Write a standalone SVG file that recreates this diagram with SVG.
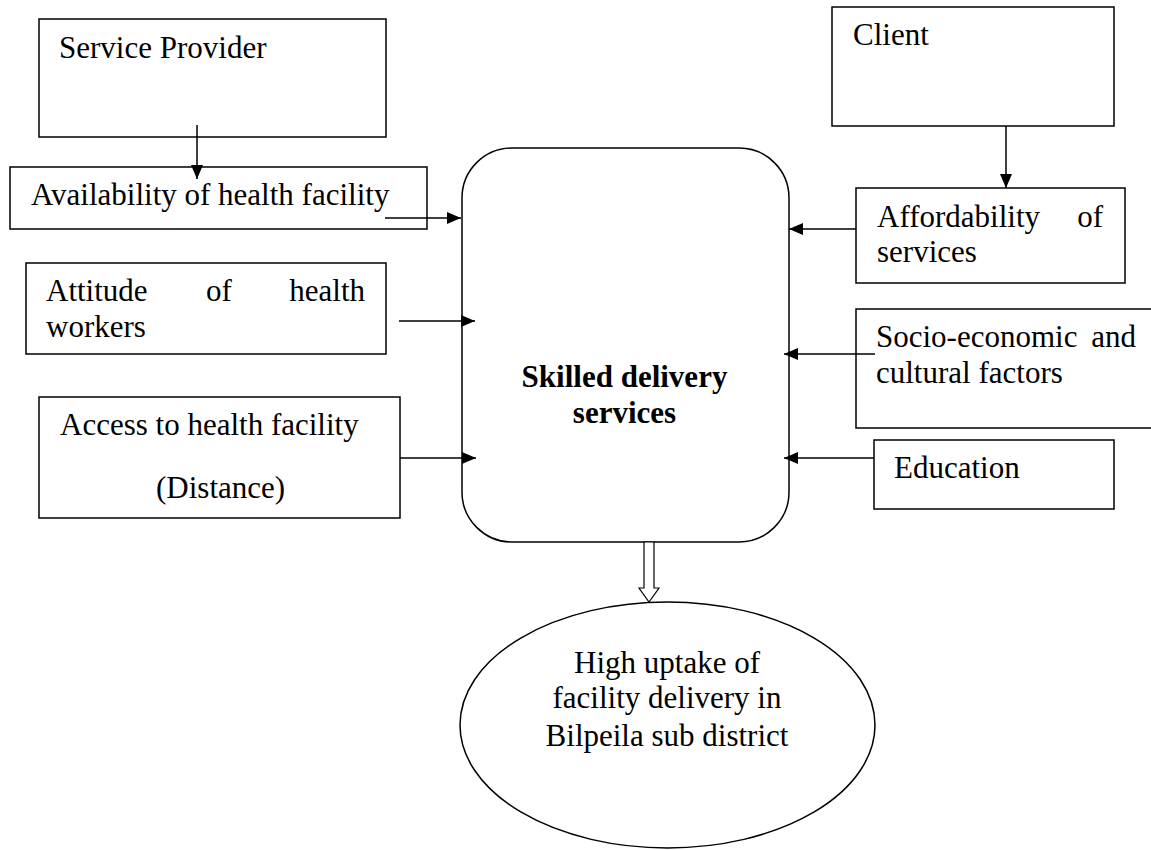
<svg xmlns="http://www.w3.org/2000/svg" width="1151" height="850" viewBox="0 0 1151 850">
<style>
.box{fill:#fff;stroke:#000;stroke-width:1.5}
.t{font-family:"Liberation Serif","Times New Roman",serif;font-size:31px;fill:#000}
.b{font-weight:bold}
.c{text-anchor:middle}
.e{text-anchor:end}
.ln{stroke:#000;stroke-width:1.5;fill:none}
</style>
<defs>
<marker id="ah" viewBox="0 0 14 12" refX="14" refY="6" markerWidth="14" markerHeight="12" markerUnits="userSpaceOnUse" orient="auto">
<path d="M0,0 L14,6 L0,12 z" fill="#000"/>
</marker>
</defs>
<rect width="1151" height="850" fill="#fff"/>
<g id="service-provider">
<rect class="box" x="39" y="19" width="347" height="118"/>
<text class="t" x="59" y="58">Service Provider</text>
</g>
<g id="availability">
<rect class="box" x="10" y="167" width="417" height="62"/>
<text class="t" x="31" y="205">Availability of health facility</text>
</g>
<g id="client">
<rect class="box" x="832" y="7" width="282" height="119"/>
<text class="t" x="853" y="45">Client</text>
</g>
<g id="affordability">
<rect class="box" x="856" y="188" width="269" height="95"/>
<text class="t" x="877" y="227">Affordability</text>
<text class="t e" x="1103" y="227">of</text>
<text class="t" x="877" y="262">services</text>
</g>
<g id="attitude">
<rect class="box" x="26" y="263" width="360" height="91"/>
<text class="t" x="46" y="301">Attitude</text>
<text class="t" x="206" y="301">of</text>
<text class="t e" x="365" y="301">health</text>
<text class="t" x="46" y="337">workers</text>
</g>
<g id="access">
<rect class="box" x="39" y="397" width="361" height="121"/>
<text class="t" x="60" y="435">Access to health facility</text>
<text class="t" x="156" y="498">(Distance)</text>
</g>
<g id="socio">
<rect class="box" x="856" y="309" width="310" height="119"/>
<text class="t" x="876" y="347">Socio-economic</text>
<text class="t e" x="1136" y="347">and</text>
<text class="t" x="876" y="383">cultural factors</text>
</g>
<g id="education">
<rect class="box" x="874" y="440" width="240" height="69"/>
<text class="t" x="894" y="478">Education</text>
</g>
<g id="skilled">
<rect class="box" x="462" y="148" width="327" height="394" rx="50" ry="50"/>
<text class="t b c" x="624.5" y="387">Skilled delivery</text>
<text class="t b c" x="624.5" y="423">services</text>
</g>
<g id="uptake">
<ellipse class="box" cx="667.5" cy="725" rx="207.5" ry="123"/>
<text class="t c" x="667" y="673">High uptake of</text>
<text class="t c" x="667" y="708">facility delivery in</text>
<text class="t c" x="667" y="746">Bilpeila sub district</text>
</g>
<g id="connectors">
<line class="ln" x1="197" y1="125" x2="197" y2="179" marker-end="url(#ah)"/>
<line class="ln" x1="1006" y1="126" x2="1006" y2="188" marker-end="url(#ah)"/>
<line class="ln" x1="385" y1="218" x2="461" y2="218" marker-end="url(#ah)"/>
<line class="ln" x1="399" y1="321" x2="475" y2="321" marker-end="url(#ah)"/>
<line class="ln" x1="400" y1="458" x2="476" y2="458" marker-end="url(#ah)"/>
<line class="ln" x1="856" y1="229" x2="789" y2="229" marker-end="url(#ah)"/>
<line class="ln" x1="875" y1="354" x2="784" y2="354" marker-end="url(#ah)"/>
<line class="ln" x1="874" y1="458" x2="784" y2="458" marker-end="url(#ah)"/>
<polygon points="644,542 654,542 654,588 659,588 649,602 639,588 644,588" fill="#fff" stroke="#000" stroke-width="1.2"/>
</g>
</svg>
